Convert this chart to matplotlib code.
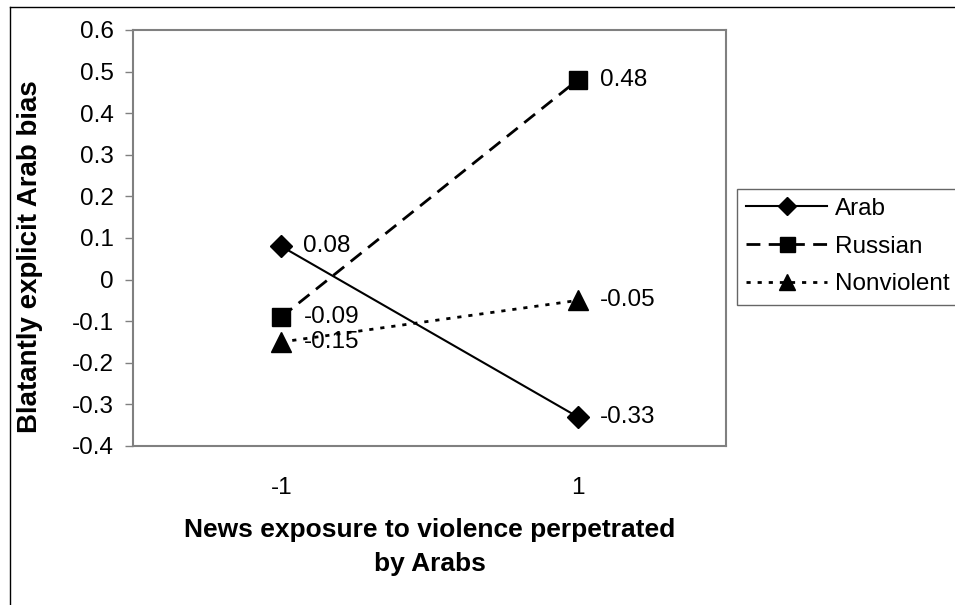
import matplotlib
matplotlib.use("Agg")
import matplotlib.pyplot as plt
from matplotlib.lines import Line2D

plt.rcParams['font.family'] = ['Liberation Sans', 'DejaVu Sans']

categories = ["-1", "1"]
arab = [0.08, -0.33]
russian = [-0.09, 0.48]
nonviolent = [-0.15, -0.05]
series_names = ["Arab", "Russian", "Nonviolent"]
yticks = [-0.4, -0.3, -0.2, -0.1, 0, 0.1, 0.2, 0.3, 0.4, 0.5, 0.6]
ytick_labels = ["-0.4", "-0.3", "-0.2", "-0.1", "0", "0.1", "0.2", "0.3", "0.4", "0.5", "0.6"]

W, H = 955, 605
fig = plt.figure(figsize=(W / 100, H / 100), dpi=100)
ax = fig.add_axes([133 / W, 1 - 446 / H, 593 / W, 416 / H])

x = list(range(len(categories)))
ax.plot(x, arab, color='black', lw=1.5, ls='-', marker='D', ms=11, label=series_names[0])
ax.plot(x, russian, color='black', lw=2, ls=(0, (5, 3)), marker='s', ms=13.5, label=series_names[1])
ax.plot(x, nonviolent, color='black', lw=2, ls=(0, (1.5, 2.5)), marker='^', ms=15, label=series_names[2])

for ser in (arab, russian, nonviolent):
    for xi, v in zip(x, ser):
        lab = f"{v:.2f}"
        ax.annotate(lab, (xi, v), xytext=(16, 0), textcoords='offset points',
                    ha='left', va='center', fontsize=17.5)

ax.set_xlim(-0.5, 1.5)
ax.set_ylim(-0.4, 0.6)
ax.set_xticks(x)
ax.set_xticklabels(categories, fontsize=17.5)
ax.set_yticks(yticks)
ax.set_yticklabels(ytick_labels, fontsize=17.5)
ax.tick_params(axis='x', length=0, pad=22)
ax.tick_params(axis='y', length=6, color='#808080', width=1, pad=8)
for sp in ax.spines.values():
    sp.set_color('#808080')
    sp.set_linewidth(1.5)

fig.text(30 / W, 1 - 257 / H, "Blatantly explicit Arab bias", rotation=90,
         ha='center', va='center', fontsize=20, fontweight='bold')
fig.text(429.5 / W, 1 - 547 / H, "News exposure to violence perpetrated\nby Arabs",
         ha='center', va='center', fontsize=19, fontweight='bold', linespacing=1.5)

leg = ax.legend(loc='upper left', bbox_to_anchor=(737 / W, 1 - 188.5 / H),
                bbox_transform=fig.transFigure, fontsize=17.5, frameon=True,
                fancybox=False, handlelength=3.33, handletextpad=0.33,
                labelspacing=0.65, borderpad=0.38, borderaxespad=0, markerscale=0.8)
leg.get_frame().set_edgecolor('#404040')
leg.get_frame().set_linewidth(1)

fig.add_artist(Line2D([10 / W, 10 / W], [0, 1 - 7 / H], transform=fig.transFigure, color='black', lw=1))
fig.add_artist(Line2D([10 / W, 1], [1 - 7 / H, 1 - 7 / H], transform=fig.transFigure, color='black', lw=1))

fig.savefig("out.png", dpi=100)
